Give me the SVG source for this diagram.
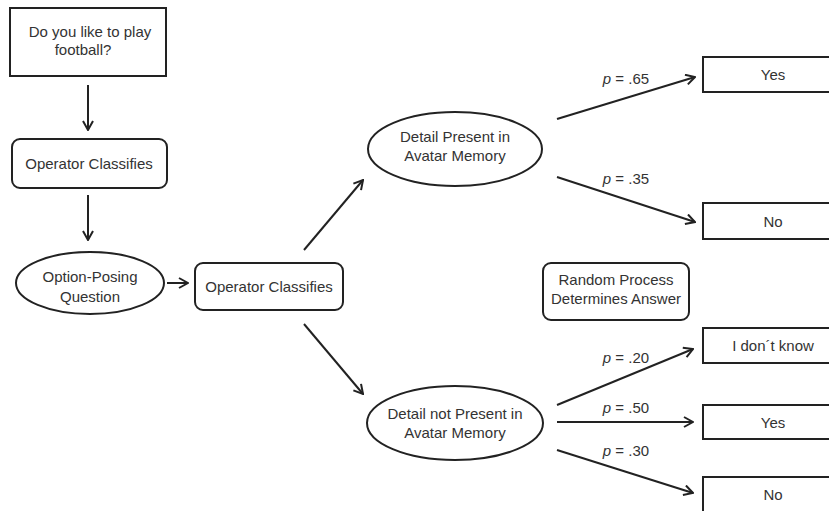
<svg xmlns="http://www.w3.org/2000/svg" width="829" height="511" viewBox="0 0 829 511">
<style>
.shape{fill:#fff;stroke:#222;stroke-width:2}
.t{font-family:"Liberation Sans",Arial,sans-serif;font-size:15px;fill:#333;text-anchor:middle;dominant-baseline:central}
.conn line{stroke:#222;stroke-width:2;marker-end:url(#arr)}
.p{font-style:italic}
</style>
<defs>
<marker id="arr" viewBox="0 0 12 12" refX="11" refY="6" markerWidth="12" markerHeight="12" markerUnits="userSpaceOnUse" orient="auto">
<path d="M2,1 L11,6 L2,11" fill="none" stroke="#222" stroke-width="2"/>
</marker>
</defs>
<rect width="829" height="511" fill="#fff"/>
<g id="q">
<rect class="shape" x="10" y="8" width="156" height="68"/>
<text class="t" x="90" y="31">Do you like to play</text>
<text class="t" x="83" y="49">football?</text>
</g>
<g id="op1">
<rect class="shape" x="12" y="139" width="155" height="49" rx="8"/>
<text class="t" x="89" y="163">Operator Classifies</text>
</g>
<g id="opq">
<ellipse class="shape" cx="90" cy="283" rx="74" ry="31"/>
<text class="t" x="90" y="276">Option-Posing</text>
<text class="t" x="90" y="296">Question</text>
</g>
<g id="op2">
<rect class="shape" x="195" y="263" width="148" height="47" rx="8"/>
<text class="t" x="269" y="286">Operator Classifies</text>
</g>
<g id="present">
<ellipse class="shape" cx="455" cy="149" rx="87" ry="37"/>
<text class="t" x="455" y="136">Detail Present in</text>
<text class="t" x="455" y="155">Avatar Memory</text>
</g>
<g id="notpresent">
<ellipse class="shape" cx="455" cy="423" rx="88" ry="37"/>
<text class="t" x="455" y="413">Detail not Present in</text>
<text class="t" x="455" y="432">Avatar Memory</text>
</g>
<g id="random">
<rect class="shape" x="543" y="263" width="146" height="57" rx="8"/>
<text class="t" x="616" y="279">Random Process</text>
<text class="t" x="616" y="298">Determines Answer</text>
</g>
<g id="yes1">
<rect class="shape" x="703" y="57" width="140" height="35"/>
<text class="t" x="773" y="74">Yes</text>
</g>
<g id="no1">
<rect class="shape" x="703" y="203" width="140" height="36"/>
<text class="t" x="773" y="221">No</text>
</g>
<g id="idk">
<rect class="shape" x="703" y="328" width="140" height="35"/>
<text class="t" x="773" y="345">I don´t know</text>
</g>
<g id="yes2">
<rect class="shape" x="703" y="405" width="140" height="34"/>
<text class="t" x="773" y="422">Yes</text>
</g>
<g id="no2">
<rect class="shape" x="703" y="477" width="140" height="40"/>
<text class="t" x="773" y="494">No</text>
</g>
<g id="connectors" class="conn">
<line x1="88" y1="85" x2="88" y2="130"/>
<line x1="88" y1="195" x2="88" y2="240"/>
<line x1="167" y1="283" x2="188" y2="283"/>
<line x1="304" y1="250" x2="363" y2="180"/>
<line x1="304" y1="324" x2="363" y2="394"/>
<line x1="557" y1="119" x2="695" y2="77"/>
<line x1="557" y1="177" x2="695" y2="222"/>
<line x1="557" y1="405" x2="693" y2="349"/>
<line x1="557" y1="422" x2="693" y2="422"/>
<line x1="557" y1="450" x2="693" y2="493"/>
</g>
<g id="labels">
<text class="t" x="626" y="78"><tspan class="p">p</tspan> = .65</text>
<text class="t" x="626" y="178"><tspan class="p">p</tspan> = .35</text>
<text class="t" x="626" y="357"><tspan class="p">p</tspan> = .20</text>
<text class="t" x="626" y="407"><tspan class="p">p</tspan> = .50</text>
<text class="t" x="626" y="450"><tspan class="p">p</tspan> = .30</text>
</g>
</svg>
